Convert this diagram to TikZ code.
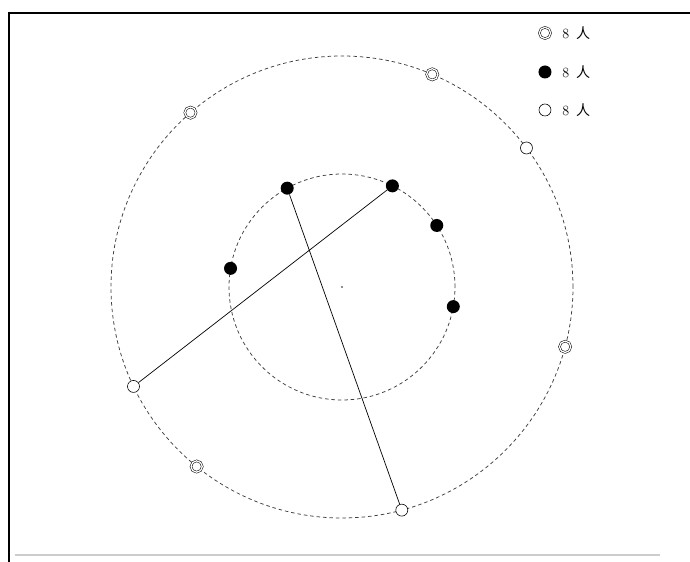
\documentclass[tikz,border=0pt]{standalone}
\usepackage{fontspec}
\usepackage{tikz}
\usetikzlibrary{calc}
\newfontfamily\cjk{Noto Sans CJK SC}

\begin{document}
\begin{tikzpicture}[
  x=0.03cm, y=0.03cm,
  ring/.style={draw=black!75, dashed, dash pattern=on 3pt off 2.5pt, line width=0.65pt},
  seatA/.style={circle, draw, double, double distance=1.1pt, line width=0.45pt, fill=white, minimum size=0.34cm, inner sep=0pt},
  seatB/.style={circle, fill=black, minimum size=0.39cm, inner sep=0pt},
  seatC/.style={circle, draw, line width=0.5pt, fill=white, minimum size=0.36cm, inner sep=0pt},
  chord/.style={line width=0.6pt},
  legend/.style={anchor=west, font=\large, inner sep=1pt}
]
\def\RIn{113}
\def\ROut{231}
\useasboundingbox (-342,-275) rectangle (348,287);
\draw[line width=1.2pt] (-333,-275) |- (348,274);
\draw[black!20, line width=1pt] (-327,-268) -- (318,-268);

\coordinate (ctr) at (0,0);
\fill[black!60] (ctr) circle (0.9pt);
\draw[ring] (ctr) circle (\ROut);
\draw[ring] (ctr) circle (\RIn);

% outer ring
\node[seatA] (a1) at (131:\ROut) {};
\node[seatA] (a2) at (67:\ROut) {};
\node[seatA] (a3) at (-15:\ROut) {};
\node[seatA] (a4) at (231:\ROut) {};
\node[seatC] (c1) at (37:\ROut) {};
\node[seatC] (c2) at (205.5:\ROut) {};
\node[seatC] (c3) at (285:\ROut) {};

% inner ring
\node[seatB] (b1) at (119:\RIn) {};
\node[seatB] (b2) at (63.5:\RIn) {};
\node[seatB] (b3) at (33:\RIn) {};
\node[seatB] (b4) at (-10:\RIn) {};
\node[seatB] (b5) at (170.5:\RIn) {};

\draw[chord] (c2) -- (b2);
\draw[chord] (b1) -- (c3);

% legend
\node[seatA] (keyA) at (203,254) {};
\node[seatB] (keyB) at (203,215) {};
\node[seatC] (keyC) at (203,177) {};
\node[legend] (txtA) at (219,254) {8\, {\cjk 人}};
\node[legend] (txtB) at (219,215) {8\, {\cjk 人}};
\node[legend] (txtC) at (219,177) {8\, {\cjk 人}};
\end{tikzpicture}
\end{document}
